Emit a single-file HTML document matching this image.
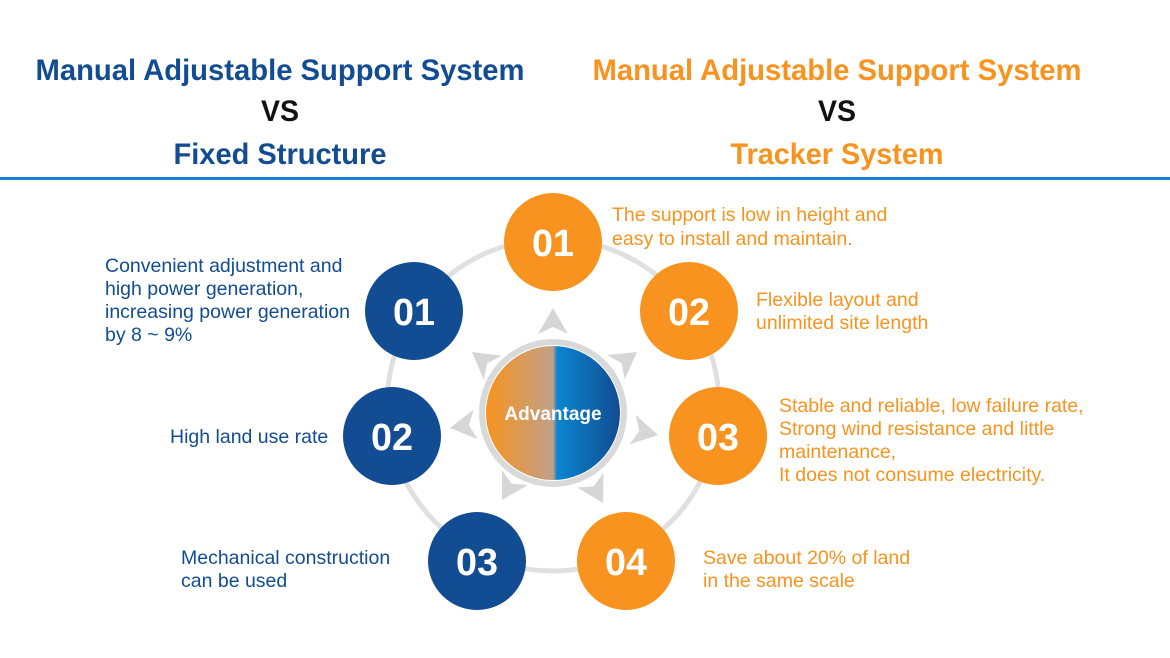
<!DOCTYPE html>
<html><head><meta charset="utf-8"><style>
html,body{margin:0;padding:0;background:#fff;}
svg{display:block;}
</style></head><body>
<svg width="1170" height="658" viewBox="0 0 1170 658" xmlns="http://www.w3.org/2000/svg" font-family="Liberation Sans, Arial, sans-serif">
<defs>
<linearGradient id="g" x1="0" x2="1" y1="0" y2="0">
<stop offset="0" stop-color="#f7931e"/>
<stop offset="0.5" stop-color="#c0a088"/>
<stop offset="0.53" stop-color="#0a86cf"/>
<stop offset="1" stop-color="#124c92"/>
</linearGradient>
</defs>
<g font-weight="bold" font-size="30" text-anchor="middle">
<text x="280" y="80" fill="#124c92" textLength="489" lengthAdjust="spacingAndGlyphs">Manual Adjustable Support System</text>
<text x="280" y="121" fill="#111" textLength="38" lengthAdjust="spacingAndGlyphs">VS</text>
<text x="280" y="164" fill="#124c92" textLength="213" lengthAdjust="spacingAndGlyphs">Fixed Structure</text>
<text x="837" y="80" fill="#f7931e" textLength="489" lengthAdjust="spacingAndGlyphs">Manual Adjustable Support System</text>
<text x="837" y="121" fill="#111" textLength="38" lengthAdjust="spacingAndGlyphs">VS</text>
<text x="837" y="164" fill="#f7931e" textLength="213" lengthAdjust="spacingAndGlyphs">Tracker System</text>
</g>
<rect x="0" y="177" width="1170" height="3" fill="#1a7fd0"/>

<circle cx="553" cy="405" r="166" fill="none" stroke="#e0e0e0" stroke-width="5"/>

<g fill="#d6d6d6">
<polygon points="0,0 -15,26 0,19 15,26" transform="translate(553,308) rotate(0)"/>
<polygon points="0,0 -15,26 0,19 15,26" transform="translate(472,352) rotate(-53)"/>
<polygon points="0,0 -15,26 0,19 15,26" transform="translate(637,352) rotate(54)"/>
<polygon points="0,0 -15,26 0,19 15,26" transform="translate(450,428) rotate(-98)"/>
<polygon points="0,0 -15,26 0,19 15,26" transform="translate(658,435) rotate(102)"/>
<polygon points="0,0 -15,26 0,19 15,26" transform="translate(502,500) rotate(-150)"/>
<polygon points="0,0 -15,26 0,19 15,26" transform="translate(603,503) rotate(151)"/>
</g>

<circle cx="553" cy="413" r="71" fill="#fff" stroke="#d9d9d9" stroke-width="6"/>
<circle cx="553" cy="413" r="67" fill="url(#g)"/>
<text x="553" y="420" fill="#fff" font-weight="bold" font-size="19" text-anchor="middle">Advantage</text>

<g font-weight="bold" font-size="38" fill="#fff" text-anchor="middle">
<circle cx="553" cy="242" r="49" fill="#f7931e"/><text x="553" y="256" textLength="42" lengthAdjust="spacingAndGlyphs">01</text>
<circle cx="689" cy="311" r="49" fill="#f7931e"/><text x="689" y="325" textLength="42" lengthAdjust="spacingAndGlyphs">02</text>
<circle cx="718" cy="436" r="49" fill="#f7931e"/><text x="718" y="450" textLength="42" lengthAdjust="spacingAndGlyphs">03</text>
<circle cx="626" cy="561" r="49" fill="#f7931e"/><text x="626" y="575" textLength="42" lengthAdjust="spacingAndGlyphs">04</text>
<circle cx="414" cy="311" r="49" fill="#124c92"/><text x="414" y="325" textLength="42" lengthAdjust="spacingAndGlyphs">01</text>
<circle cx="392" cy="436" r="49" fill="#124c92"/><text x="392" y="450" textLength="42" lengthAdjust="spacingAndGlyphs">02</text>
<circle cx="477" cy="561" r="49" fill="#124c92"/><text x="477" y="575" textLength="42" lengthAdjust="spacingAndGlyphs">03</text>
</g>

<g font-size="19.5" fill="#f7931e">
<text x="612" y="221">The support is low in height and</text>
<text x="612" y="245">easy to install and maintain.</text>
<text x="756" y="306">Flexible layout and</text>
<text x="756" y="329">unlimited site length</text>
<text x="779" y="412">Stable and reliable, low failure rate,</text>
<text x="779" y="435">Strong wind resistance and little</text>
<text x="779" y="458">maintenance,</text>
<text x="779" y="481">It does not consume electricity.</text>
<text x="703" y="564">Save about 20% of land</text>
<text x="703" y="587">in the same scale</text>
</g>
<g font-size="19.5" fill="#124c92">
<text x="105" y="272">Convenient adjustment and</text>
<text x="105" y="295">high power generation,</text>
<text x="105" y="318">increasing power generation</text>
<text x="105" y="341">by 8 ~ 9%</text>
<text x="170" y="443">High land use rate</text>
<text x="181" y="564">Mechanical construction</text>
<text x="181" y="587">can be used</text>
</g>
</svg>
</body></html>
